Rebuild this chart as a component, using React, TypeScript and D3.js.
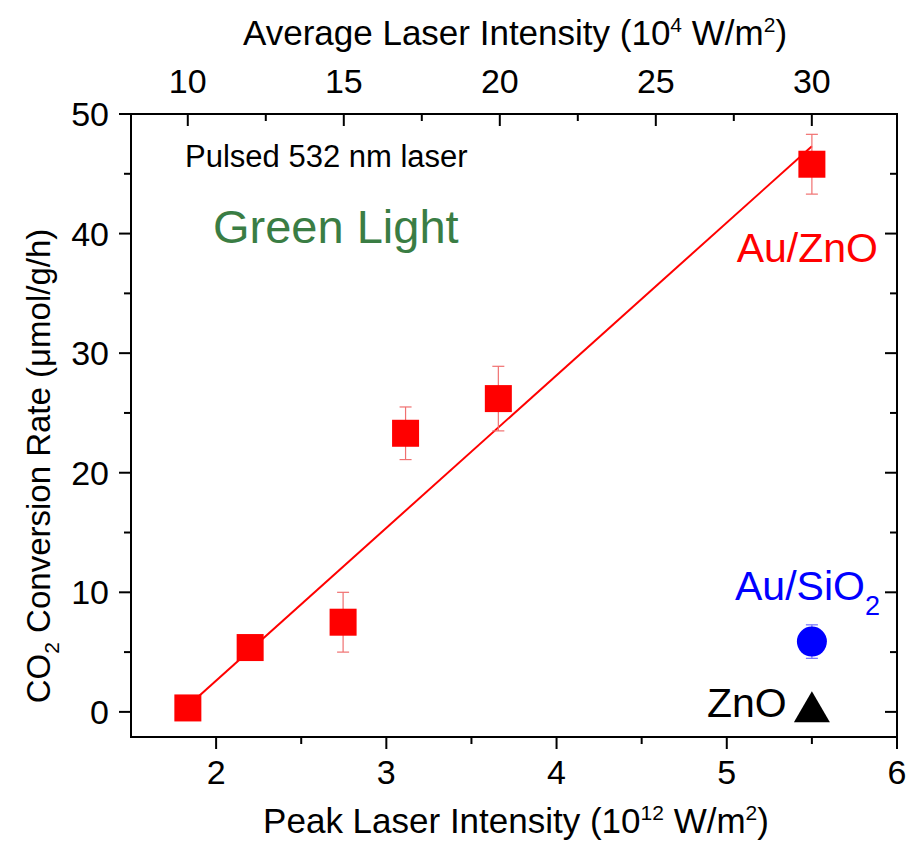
import React from "react";
import * as d3 from "d3";

// Au/ZnO under pulsed green laser
const peakIntensity = [1.834, 2.2, 2.746, 3.113, 3.658, 5.5];
const auZnORate = [0.33, 5.38, 7.5, 23.3, 26.2, 45.8];
const auZnOErr = [0.4, 0.4, 2.5, 2.2, 2.7, 2.5];

// linear fit drawn through Au/ZnO
const fitX = [1.834, 5.5];
const fitY = [0.5, 47.3];

// controls at the highest intensity
const auSiO2 = { x: 5.5, y: 5.88, err: 1.4 };
const znO = { x: 5.5, y: 0.38 };

const bottomTicks = [2, 3, 4, 5, 6];
const bottomMinor = [2.5, 3.5, 4.5, 5.5];
const leftTicks = [0, 10, 20, 30, 40, 50];
const leftMinor = [5, 15, 25, 35, 45];
const topTicks = [10, 15, 20, 25, 30];
const topMinor = [12.5, 17.5, 22.5, 27.5];

const W = 908;
const H = 841;
const L = 131, R = 897, T = 114, B = 737;
const FONT = "Arial, 'Liberation Sans', sans-serif";

export default function App() {
  const x = d3.scaleLinear().domain([1.5, 6]).range([L, R]);
  const y = d3.scaleLinear().domain([-2.1, 50]).range([B, T]);
  const xTop = d3.scaleLinear().domain([8.18, 32.73]).range([L, R]);

  const fitPath = d3.line<number>()
    .x((d, i) => x(fitX[i]))
    .y(d => y(d))(fitY);

  const sq = 27;
  const cap = 6;
  const errColor = "#f07070";

  const tx = x(znO.x), ty = y(znO.y);
  const triPts = `${tx},${ty - 16} ${tx - 18},${ty + 15} ${tx + 18},${ty + 15}`;

  return (
    <svg width={W} height={H} style={{ position: "absolute", left: 0, top: 0, background: "#fff" }}
      fontFamily={FONT}>
      {/* frame */}
      <rect x={L} y={T} width={R - L} height={B - T} fill="none" stroke="#000" strokeWidth={2} />

      {/* bottom axis, ticks outward */}
      {bottomTicks.map(t => (
        <g key={"b" + t}>
          <line x1={x(t)} x2={x(t)} y1={B} y2={B + 12} stroke="#000" strokeWidth={2} />
          <text x={x(t)} y={B + 47} fontSize={34} textAnchor="middle">{t}</text>
        </g>
      ))}
      {bottomMinor.map(t => (
        <line key={"bm" + t} x1={x(t)} x2={x(t)} y1={B} y2={B + 7} stroke="#000" strokeWidth={2} />
      ))}

      {/* left axis, ticks outward */}
      {leftTicks.map(t => (
        <g key={"l" + t}>
          <line x1={L} x2={L - 12} y1={y(t)} y2={y(t)} stroke="#000" strokeWidth={2} />
          <text x={L - 22} y={y(t) + 12} fontSize={34} textAnchor="end">{t}</text>
        </g>
      ))}
      {leftMinor.map(t => (
        <line key={"lm" + t} x1={L} x2={L - 7} y1={y(t)} y2={y(t)} stroke="#000" strokeWidth={2} />
      ))}

      {/* right axis, ticks inward */}
      {leftTicks.map(t => (
        <line key={"r" + t} x1={R} x2={R - 12} y1={y(t)} y2={y(t)} stroke="#000" strokeWidth={2} />
      ))}
      {leftMinor.map(t => (
        <line key={"rm" + t} x1={R} x2={R - 7} y1={y(t)} y2={y(t)} stroke="#000" strokeWidth={2} />
      ))}

      {/* top axis, ticks inward */}
      {topTicks.map(t => (
        <g key={"t" + t}>
          <line x1={xTop(t)} x2={xTop(t)} y1={T} y2={T + 12} stroke="#000" strokeWidth={2} />
          <text x={xTop(t)} y={T - 21} fontSize={34} textAnchor="middle">{t}</text>
        </g>
      ))}
      {topMinor.map(t => (
        <line key={"tm" + t} x1={xTop(t)} x2={xTop(t)} y1={T} y2={T + 7} stroke="#000" strokeWidth={2} />
      ))}

      {/* axis titles */}
      <text x={516} y={833} fontSize={35} textAnchor="middle">
        Peak Laser Intensity (10<tspan dy={-13} fontSize={21}>12</tspan>
        <tspan dy={13}> W/m</tspan><tspan dy={-13} fontSize={21}>2</tspan><tspan dy={13}>)</tspan>
      </text>
      <text x={515} y={45} fontSize={35} textAnchor="middle">
        Average Laser Intensity (10<tspan dy={-13} fontSize={21}>4</tspan>
        <tspan dy={13}> W/m</tspan><tspan dy={-13} fontSize={21}>2</tspan><tspan dy={13}>)</tspan>
      </text>
      <text transform={`translate(50, 466) rotate(-90)`} fontSize={33} textAnchor="middle">
        CO<tspan dy={9} fontSize={21}>2</tspan><tspan dy={-9}> Conversion Rate (μmol/g/h)</tspan>
      </text>

      {/* fit line */}
      <path d={fitPath ?? ""} fill="none" stroke="#ff0000" strokeWidth={2} />

      {/* Au/ZnO error bars + squares */}
      {peakIntensity.map((px, i) => {
        const cx = x(px);
        const top = y(auZnORate[i] + auZnOErr[i]);
        const bot = y(auZnORate[i] - auZnOErr[i]);
        return (
          <g key={"e" + i} stroke={errColor} strokeWidth={1.2}>
            <line x1={cx} x2={cx} y1={top} y2={bot} />
            <line x1={cx - cap} x2={cx + cap} y1={top} y2={top} />
            <line x1={cx - cap} x2={cx + cap} y1={bot} y2={bot} />
          </g>
        );
      })}
      {peakIntensity.map((px, i) => (
        <rect key={"s" + i} x={x(px) - sq / 2} y={y(auZnORate[i]) - sq / 2} width={sq} height={sq}
          fill="#ff0000" />
      ))}

      {/* Au/SiO2 */}
      <g stroke="#7070ff" strokeWidth={1.2}>
        <line x1={x(auSiO2.x)} x2={x(auSiO2.x)} y1={y(auSiO2.y + auSiO2.err)} y2={y(auSiO2.y - auSiO2.err)} />
        <line x1={x(auSiO2.x) - cap} x2={x(auSiO2.x) + cap} y1={y(auSiO2.y + auSiO2.err)} y2={y(auSiO2.y + auSiO2.err)} />
        <line x1={x(auSiO2.x) - cap} x2={x(auSiO2.x) + cap} y1={y(auSiO2.y - auSiO2.err)} y2={y(auSiO2.y - auSiO2.err)} />
      </g>
      <circle cx={x(auSiO2.x)} cy={y(auSiO2.y)} r={15} fill="#0000ff" />

      {/* ZnO */}
      <polygon points={triPts} fill="#000" />

      {/* annotations */}
      <text x={185} y={167} fontSize={31}>Pulsed 532 nm laser</text>
      <text x={213} y={243} fontSize={47} fill="#3a7d44">Green Light</text>
      <text x={878} y={262} fontSize={41} fill="#ff0000" textAnchor="end">Au/ZnO</text>
      <text x={735} y={600} fontSize={41} fill="#0000ff">
        Au/SiO<tspan dy={15} fontSize={27}>2</tspan>
      </text>
      <text x={707} y={717} fontSize={41}>ZnO</text>
    </svg>
  );
}
